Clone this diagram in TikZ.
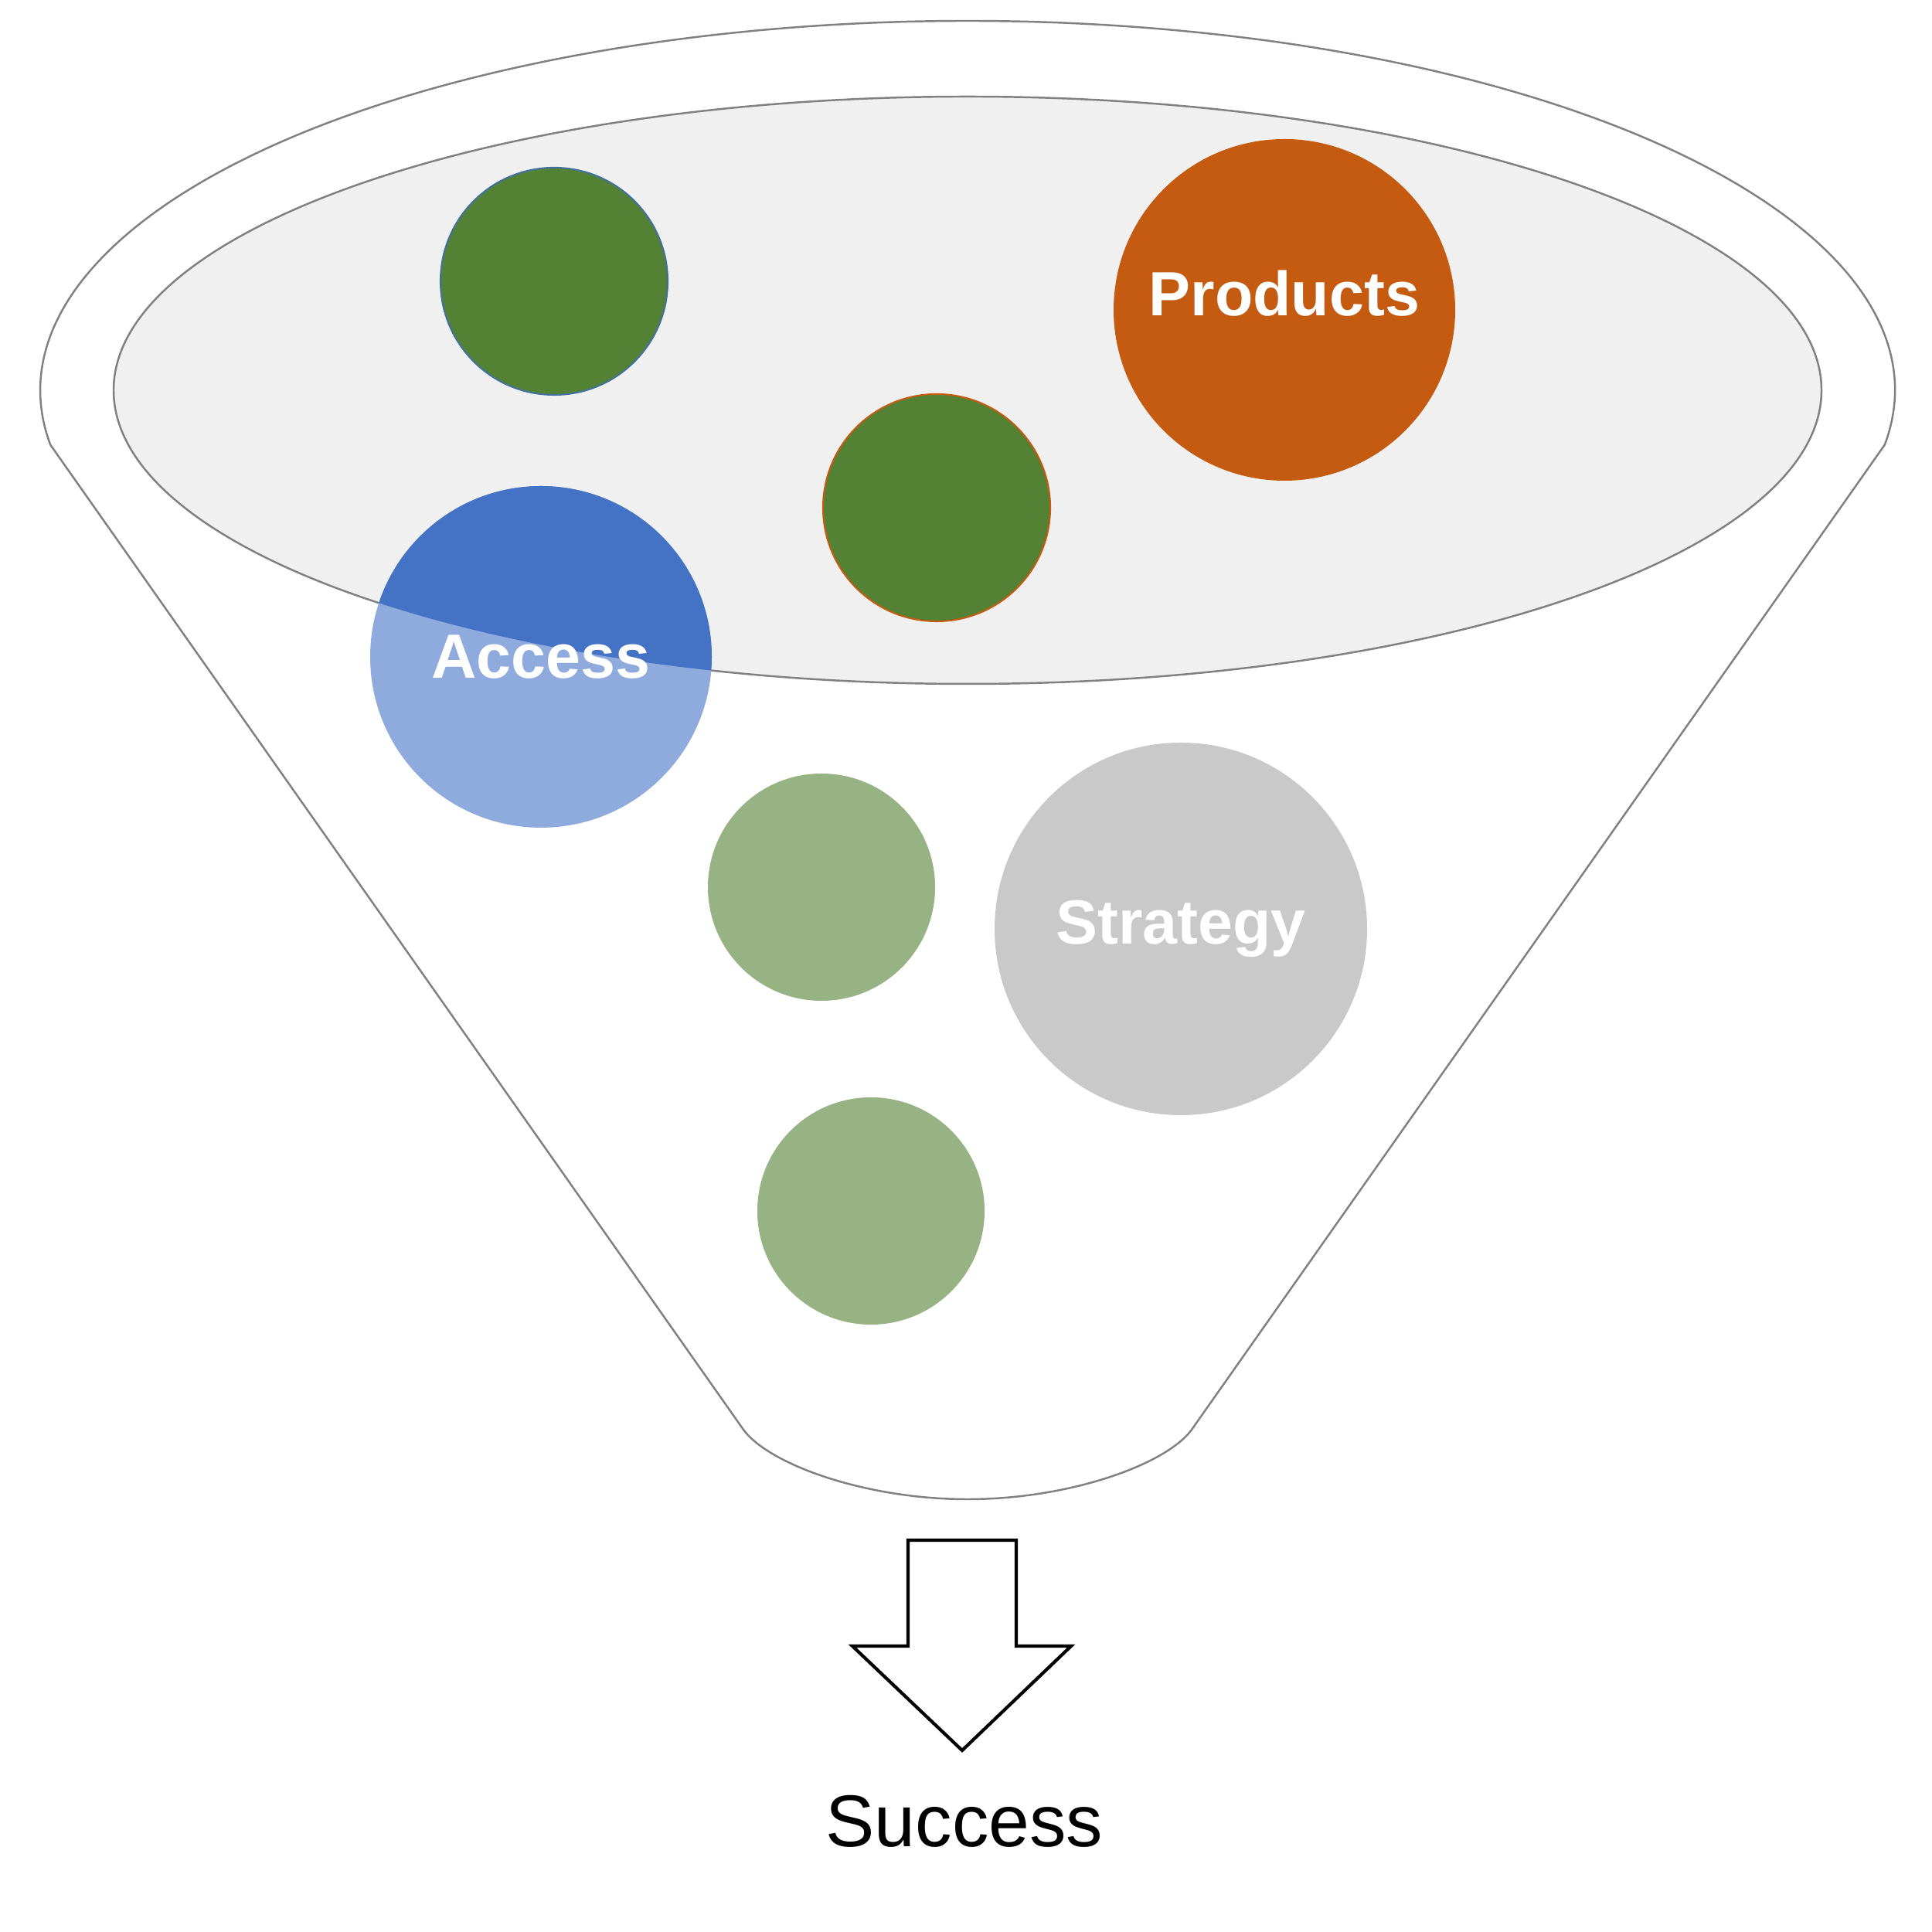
\documentclass[tikz,border=0pt]{standalone}
\usepackage{fontspec}
\setmainfont{Liberation Sans}
\definecolor{funnelgrey}{RGB}{128,128,128}
\definecolor{bowlfill}{RGB}{240,240,240}
\definecolor{leafgreen}{RGB}{84,130,53}
\definecolor{palegreen}{RGB}{151,178,131}
\definecolor{burnt}{RGB}{197,90,17}
\definecolor{royal}{RGB}{68,114,196}
\definecolor{paleblue}{RGB}{143,170,220}
\definecolor{stone}{RGB}{202,201,202}
\definecolor{steel}{RGB}{65,113,156}

\begin{document}
\begin{tikzpicture}[funnel/.style={draw=funnelgrey,line width=0.7pt},
   ball/.style={circle,inner sep=0pt,text=white,
      font=\fontsize{23}{23}\selectfont\bfseries},
   small ball/.style={ball,minimum size=2.94cm},
   big ball/.style={ball,minimum size=4.42cm}]
\useasboundingbox (0,0) rectangle (25,25);
\coordinate (mouth) at (12.52,19.95);
% rim and spout
\draw[funnel,fill=white] ([shift={(-8.5:12 and 4.78)}]mouth)
   arc[start angle=-8.5,end angle=188.5,x radius=12,y radius=4.78]
   -- (9.62,6.50) .. controls (9.95,6.05) and (11.20,5.60) .. (12.52,5.60)
   .. controls (13.84,5.60) and (15.09,6.05) .. (15.42,6.50) -- cycle;
% bowl
\draw[funnel,fill=bowlfill] (mouth) ellipse [x radius=11.05,y radius=3.80];
% balls
\node[small ball,fill=leafgreen,draw=steel,line width=0.6pt] (topleft) at (7.17,21.36) {};
\node[big ball,fill=burnt,text depth=0.44cm] (products) at (16.62,20.99) {Products};
\node[small ball,fill=leafgreen,draw=burnt,line width=0.6pt] (middle) at (12.12,18.43) {};
\node[big ball,fill=paleblue,
   path picture={\fill[royal] (mouth) ellipse [x radius=11.05,y radius=3.80];}]
   (access) at (7.00,16.50) {Access};
\node[small ball,fill=palegreen] (lowleft) at (10.63,13.52) {};
\node[ball,minimum size=4.82cm,fill=stone] (strategy) at (15.28,12.98) {Strategy};
\node[small ball,fill=palegreen] (bottom) at (11.27,9.33) {};
% outlet arrow
\draw[line width=1.2pt,fill=white] (11.75,5.07) -- (13.15,5.07) -- (13.15,3.70)
   -- (13.86,3.70) -- (12.45,2.35) -- (11.03,3.70) -- (11.75,3.70) -- cycle;
\node[anchor=base,font=\fontsize{27}{27}\selectfont] (success) at (12.48,1.10) {Success};
\end{tikzpicture}
\end{document}
